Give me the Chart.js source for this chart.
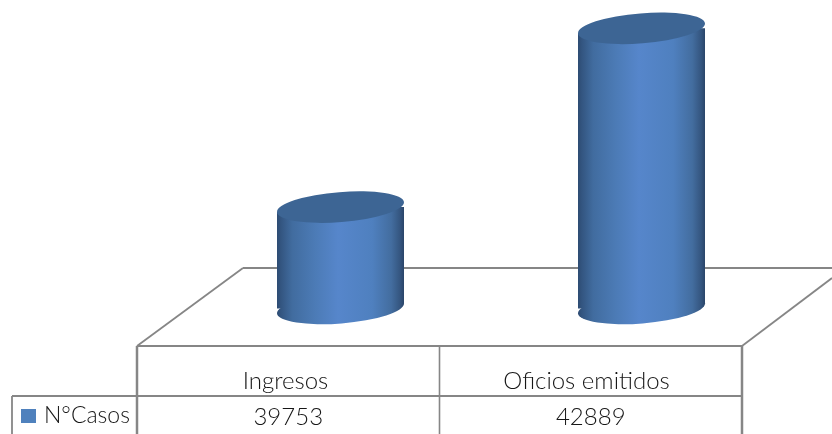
<!DOCTYPE html>
<html><head><meta charset="utf-8">
<script src="https://cdn.jsdelivr.net/npm/chart.js@4"></script>
<style>html,body{margin:0;padding:0;background:#fff}canvas{display:block}</style>
</head><body><canvas id="c" width="832" height="434"></canvas>
<script>
const categories = ["Ingresos", "Oficios emitidos"];
const casos = [39753, 42889];
const seriesName = "N°Casos";

const LINE = "#868686", TEXT = "#161616", FONT = "Lato, Carlito, sans-serif";
const BAR_PCT = 0.422, TILT = 4.6 * Math.PI / 180, RX = 63.7, RY = 15, SKEW = 5;

function sideGradient(ctx, l, r) {
  const g = ctx.createLinearGradient(l, 0, r, 0);
  g.addColorStop(0, "#2d4b72");
  g.addColorStop(0.03, "#335580");
  g.addColorStop(0.12, "#416c9f");
  g.addColorStop(0.3, "#4c7bb6");
  g.addColorStop(0.48, "#5686cb");
  g.addColorStop(0.75, "#4f80bf");
  g.addColorStop(0.9, "#436d9f");
  g.addColorStop(0.97, "#34557f");
  g.addColorStop(1, "#2a4569");
  return g;
}
function ellipse(ctx, x, y) { ctx.beginPath(); ctx.ellipse(x, y, RX, RY, -TILT, 0, Math.PI * 2); }

const cylinder = {
  id: "cylinder",
  beforeDatasetsDraw(chart) {
    const ctx = chart.ctx, { x } = chart.scales;
    const colW = 302.5, yFloor = 268;
    const colL = x.getPixelForValue(0) - 203.5;
    const colM = colL + colW, colR = colM + colW;
    const top = 346, mid = 396, bottom = 434, boxL = 12;
    ctx.save();
    ctx.strokeStyle = LINE;
    const seg = (a, b, c, d, w) => { ctx.lineWidth = w; ctx.beginPath(); ctx.moveTo(a, b); ctx.lineTo(c, d); ctx.stroke(); };
    seg(243, yFloor, 832, yFloor, 1.8);
    seg(colL, top, 243, yFloor, 1.8);
    seg(colR, top, 832, 278, 1.8);
    seg(colL, top, colR, top, 1.8);
    seg(boxL, mid, colR, mid, 1.8);
    seg(colL, top, colL, bottom, 2.5);
    seg(colR, top, colR, bottom, 2.5);
    seg(colM, top, colM, bottom, 1.6);
    seg(boxL, mid, boxL, bottom, 1.8);
    ctx.fillStyle = TEXT;
    ctx.font = "300 24px " + FONT;
    ctx.textAlign = "center"; ctx.textBaseline = "middle";
    casos.forEach((v, i) => ctx.fillText(String(v), colL + colW * (i + 0.5), 417));
    ctx.textAlign = "left";
    ctx.font = "300 23px " + FONT;
    ctx.fillText(seriesName, 44, 416);
    ctx.fillStyle = "#4f81bd";
    ctx.fillRect(21, 409, 15, 14);
    ctx.restore();
  },
  beforeDatasetDraw(chart) {
    const ctx = chart.ctx, bars = chart.getDatasetMeta(0).data;
    ctx.save();
    ctx.beginPath();
    bars.forEach(b => {
      const l = b.x - b.width / 2, r = b.x + b.width / 2;
      ctx.moveTo(l, b.y + SKEW); ctx.lineTo(r, b.y - SKEW);
      ctx.lineTo(r, b.base - SKEW); ctx.lineTo(l, b.base + SKEW); ctx.closePath();
    });
    ctx.clip();
  },
  afterDatasetDraw(chart) {
    const ctx = chart.ctx, bars = chart.getDatasetMeta(0).data;
    ctx.restore();
    ctx.save();
    bars.forEach(b => {
      const l = b.x - b.width / 2, r = b.x + b.width / 2;
      ellipse(ctx, b.x, b.base);
      ctx.fillStyle = sideGradient(ctx, l, r);
      ctx.fill();
      ellipse(ctx, b.x, b.y);
      ctx.fillStyle = "#3d6594";
      ctx.fill();
    });
    ctx.restore();
  }
};

new Chart(document.getElementById("c"), {
  type: "bar",
  data: {
    labels: categories,
    datasets: [{
      label: seriesName,
      data: casos,
      base: 37975,
      clip: false,
      barPercentage: BAR_PCT,
      categoryPercentage: 1,
      backgroundColor(c) {
        const s = c.chart.scales.x;
        if (c.dataIndex === undefined || !s) return "#4f81bd";
        const st = s.getPixelForValue(1) - s.getPixelForValue(0);
        const m = s.getPixelForValue(c.dataIndex), w = st * BAR_PCT;
        if (!isFinite(m) || !isFinite(w)) return "#4f81bd";
        return sideGradient(c.chart.ctx, m - w / 2, m + w / 2);
      }
    }]
  },
  options: {
    responsive: false,
    animation: false,
    layout: { padding: { left: 190, right: 40, top: 22, bottom: 0 } },
    plugins: { legend: { display: false }, tooltip: { enabled: false } },
    scales: {
      y: { display: false, min: 38000, max: 43000 },
      x: {
        afterFit(s) { s.height = 127; },
        grid: { display: false },
        border: { display: false },
        ticks: { color: TEXT, font: { family: FONT, size: 24, weight: 300 }, padding: 52, labelOffset: -55, autoSkip: false, maxRotation: 0 }
      }
    }
  },
  plugins: [cylinder]
});
</script></body></html>
